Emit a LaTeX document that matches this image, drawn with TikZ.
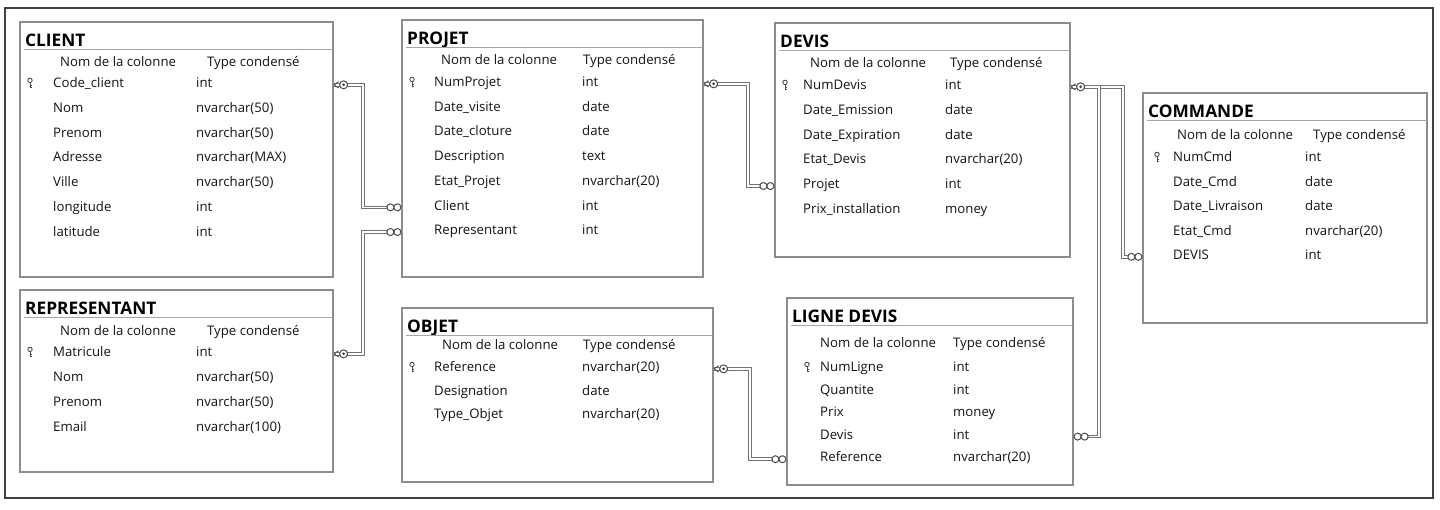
\documentclass[tikz,border=0pt]{standalone}
\usepackage{fontspec}
\setmainfont{Open Sans}
\usetikzlibrary{calc,fit}

\tikzset{
  tablebox/.style={draw=black!45, line width=1.2pt, fill=white, inner sep=0pt},
  sepline/.style={draw=black!35, line width=1pt},
  tabletitle/.style={font=\fontsize{17.3}{19}\selectfont\bfseries, text=black, inner sep=0pt, anchor=base west},
  colhead/.style={font=\fontsize{13.2}{15}\selectfont, text=black!92, inner sep=0pt, anchor=base west},
  colname/.style={colhead},
  coltype/.style={colhead},
  rel/.style={draw=black!55, line width=1pt, double=white, double distance=1.6pt},
  relend/.style={draw=black!70, line width=1pt, fill=white},
  pkline/.style={draw=black!70, line width=0.9pt},
  outerframe/.style={draw=black!75, line width=1.5pt},
}

% table frame with its title and the rule under the title
\newcommand\dbtable[6]{% name, title, left, top, right, bottom
  \node[tablebox, fit={(#3,#4) (#5,#6)}] (#1) {};
  \node[tabletitle] (#1-title) at (#3+5,#4+24) {#2};
  \draw[sepline] (#3+4,#4+27) -- (#5,#4+27);
}
% column captions
\newcommand\dbhead[4]{% name, y, name-x, type-x
  \node[colhead] (#1-h) at (#3,#2+4.5) {Nom de la colonne};
  \node[colhead] (#1-ht) at (#4,#2+4.5) {Type condensé};
}
% small primary-key glyph
\newcommand\pkglyph[2]{%
  \draw[pkline] (#1,#2-2.6) circle (2.2pt);
  \draw[pkline] (#1,#2-0.4) -- (#1,#2+4.8) (#1,#2+2.6) -- (#1+1.8,#2+2.6) (#1,#2+4.6) -- (#1+1.6,#2+4.6);
}
% column rows: name, key-x, name-x, type-x, first-y, step-y, rows
\newcommand\dbrows[7]{%
  \foreach \rowname/\rowtype [count=\i] in {#7} {
    \node[colname] (#1-r\i) at (#3,#5+\i*#6-#6+4.5) {\rowname};
    \node[coltype] (#1-t\i) at (#4,#5+\i*#6-#6+4.5) {\rowtype};
  }
  \pkglyph{#2}{#5}
}
% relationship ends: key side and many side (direction +1 right, -1 left)
\newcommand\keyend[2]{%
  \begin{scope}[shift={#1}, xscale=#2]
    \draw[pkline] (0.5,0) -- (5,-3.2) (0.5,0) -- (5,3.2);
    \draw[relend] (10,0) circle (4pt);
    \fill[black!75] (10,0) circle (1.5pt);
  \end{scope}}
\newcommand\manyend[2]{%
  \begin{scope}[shift={#1}, xscale=#2]
    \draw[relend] (4,0) circle (3.5pt) (11,0) circle (3.5pt);
  \end{scope}}

\begin{document}
\begin{tikzpicture}[x=1pt, y=-1pt]
  \useasboundingbox[fill=white] (0,0) rectangle (1440,509);
  \draw[outerframe] (5,8) rectangle (1433,498);

  % CLIENT
  \dbtable{client}{CLIENT}{20}{22}{333}{277}
  \dbhead{client}{62}{60}{207}
  \dbrows{client}{30}{53}{196}{83}{24.8}{Code\_client/int, Nom/nvarchar(50), Prenom/nvarchar(50), Adresse/nvarchar(MAX), Ville/nvarchar(50), longitude/int, latitude/int}

  % PROJET
  \dbtable{projet}{PROJET}{402}{20}{703}{277}
  \dbhead{projet}{60}{441}{583}
  \dbrows{projet}{412}{434}{582}{82}{24.7}{NumProjet/int, Date\_visite/date, Date\_cloture/date, Description/text, Etat\_Projet/nvarchar(20), Client/int, Representant/int}

  % DEVIS
  \dbtable{devis}{DEVIS}{775}{23}{1070}{257}
  \dbhead{devis}{63}{810}{950}
  \dbrows{devis}{785}{803}{945}{85}{24.8}{NumDevis/int, Date\_Emission/date, Date\_Expiration/date, Etat\_Devis/nvarchar(20), Projet/int, Prix\_installation/money}

  % COMMANDE
  \dbtable{commande}{COMMANDE}{1143}{93}{1427}{323}
  \dbhead{commande}{135}{1177}{1313}
  \dbrows{commande}{1157}{1173}{1305}{157}{24.5}{NumCmd/int, Date\_Cmd/date, Date\_Livraison/date, Etat\_Cmd/nvarchar(20), DEVIS/int}

  % REPRESENTANT
  \dbtable{rep}{REPRESENTANT}{20}{290}{333}{472}
  \dbhead{rep}{331}{60}{207}
  \dbrows{rep}{30}{53}{196}{352}{25}{Matricule/int, Nom/nvarchar(50), Prenom/nvarchar(50), Email/nvarchar(100)}

  % OBJET
  \dbtable{objet}{OBJET}{402}{308}{713}{482}
  \dbhead{objet}{345}{442}{583}
  \dbrows{objet}{412}{434}{582}{367}{23.5}{Reference/nvarchar(20), Designation/date, Type\_Objet/nvarchar(20)}

  % LIGNE DEVIS
  \dbtable{ligne}{LIGNE DEVIS}{787}{298}{1073}{485}
  \dbhead{ligne}{343}{820}{953}
  \dbrows{ligne}{807}{820}{953}{367}{22.6}{NumLigne/int, Quantite/int, Prix/money, Devis/int, Reference/nvarchar(20)}

  % bends of the relationship lines
  \coordinate (bendA) at (363,0);
  \coordinate (bendB) at (748,0);
  \coordinate (bendC) at (1123,0);
  \coordinate (bendD) at (1099,0);
  \coordinate (bendE) at (750,0);

  % relationships
  \draw[rel] (client.east |- client-r1.mid) -| (bendA |- projet-r6.mid) -- (projet.west |- projet-r6.mid);
  \draw[rel] (rep.east |- rep-r1.mid) -| (bendA |- projet-r7.mid) -- (projet.west |- projet-r7.mid);
  \draw[rel] (projet.east |- projet-r1.mid) -| (bendB |- devis-r5.mid) -- (devis.west |- devis-r5.mid);
  \draw[rel] (devis.east |- devis-r1.mid) -| (bendC |- commande-r5.mid) -- (commande.west |- commande-r5.mid);
  \draw[rel] (devis.east |- devis-r1.mid) -| (bendD |- ligne-r4.mid) -- (ligne.east |- ligne-r4.mid);
  \draw[rel] (objet.east |- objet-r1.mid) -| (bendE |- ligne-r5.mid) -- (ligne.west |- ligne-r5.mid);

  % relationship ends
  \keyend{(client.east |- client-r1.mid)}{1}
  \keyend{(rep.east |- rep-r1.mid)}{1}
  \keyend{(projet.east |- projet-r1.mid)}{1}
  \keyend{(devis.east |- devis-r1.mid)}{1}
  \keyend{(objet.east |- objet-r1.mid)}{1}
  \manyend{(projet.west |- projet-r6.mid)}{-1}
  \manyend{(projet.west |- projet-r7.mid)}{-1}
  \manyend{(devis.west |- devis-r5.mid)}{-1}
  \manyend{(commande.west |- commande-r5.mid)}{-1}
  \manyend{(ligne.east |- ligne-r4.mid)}{1}
  \manyend{(ligne.west |- ligne-r5.mid)}{-1}
\end{tikzpicture}
\end{document}
